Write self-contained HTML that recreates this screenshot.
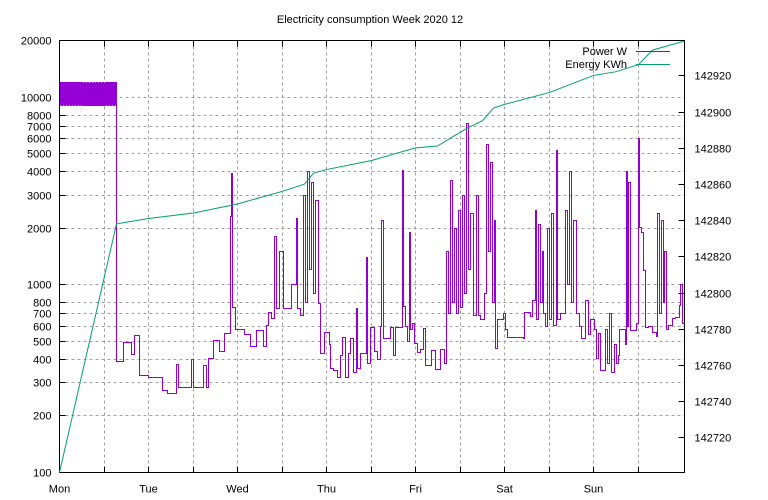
<!DOCTYPE html>
<html><head><meta charset="utf-8"><style>
body{margin:0;background:#fff}
svg{display:block;font-family:"Liberation Sans",sans-serif;font-size:11px}
</style></head><body>
<svg id="c" width="768" height="500" xmlns="http://www.w3.org/2000/svg">
<text x="370" y="23" text-anchor="middle">Electricity consumption Week 2020 12</text>
<g id="grid"></g><g id="axes"></g><g id="series"></g>
<g>
<text x="627" y="55" text-anchor="end">Power W</text>
<line x1="636" y1="51.5" x2="670" y2="51.5" stroke="#9400d3"/>
<text x="627" y="68" text-anchor="end">Energy KWh</text>
<line x1="636" y1="64.5" x2="670" y2="64.5" stroke="#009e73"/>
</g>
</svg>
<script>
const dayLabels=["Mon","Tue","Wed","Thu","Fri","Sat","Sun"];
const leftTicks=[100,200,300,400,500,600,700,800,1000,2000,3000,4000,5000,6000,7000,8000,10000,20000];
const rightTicks=[142720,142740,142760,142780,142800,142820,142840,142860,142880,142900,142920];
const energyHours=[0,15.4,24,36,48,60,66,68.5,72,84,96,102,106,110,114,117,120,132,144,150,156,160,168.5];
const energyKwh=[142700.7,142838,142841,142844,142849,142856,142860,142866,142868,142873,142880,142881,142886,142891,142895,142902,142904,142910.6,142920,142922,142926,142934,142939];
const powerHours=[0,0.2,0.4,0.6,0.8,1,1.2,1.4,1.6,1.8,2,2.2,2.4,2.6,2.8,3,3.2,3.4,3.6,3.8,4,4.2,4.4,4.6,4.8,5,5.2,5.4,5.6,5.8,6,6.2,6.4,6.6,6.8,7,7.2,7.4,7.6,7.8,8,8.2,8.4,8.6,8.8,9,9.2,9.4,9.6,9.8,10,10.2,10.4,10.6,10.8,11,11.2,11.4,11.6,11.8,12,12.2,12.4,12.6,12.8,13,13.2,13.4,13.6,13.8,14,14.2,14.4,14.6,14.8,15,15.2,
15.4,17.3,19.4,20.2,21.6,24.0,27.8,29.1,31.6,32.1,35.6,36.1,38.8,39.6,40.2,41.5,43.2,44.5,46.1,46.4,46.7,47.5,49.9,51.5,53.1,55.0,55.8,56.4,57.2,58.0,58.5,59.3,60.4,62.6,63.9,64.2,65.0,65.8,66.3,66.9,67.4,68.0,68.5,69.0,69.9,70.4,71.5,72.8,73.1,73.9,75.0,75.8,76.3,77.1,77.9,78.5,79.3,80.1,80.4,81.2,82.8,83.1,83.9,85.0,85.8,86.6,86.8,87.4,89.3,90.1,90.6,92.5,92.8,93.3,93.9,94.4,94.7,95.2,95.7,96.6,97.4,98.2,98.7,100.1,100.3,101.4,102.8,103.8,104.4,104.9,105.5,106.0,106.5,107.1,107.6,108.1,108.7,109.2,109.8,110.3,110.8,111.7,112.5,113.0,113.5,114.6,115.2,115.7,116.2,116.8,117.3,117.6,118.1,119.7,120.3,120.8,125.1,125.4,127.0,127.6,128.4,128.6,129.2,129.7,130.3,130.5,131.1,131.6,132.2,132.7,133.2,134.0,134.3,135.1,136.5,137.0,137.5,138.1,138.6,139.4,140.2,140.8,141.9,142.7,143.2,144.3,144.8,145.4,145.9,147.3,147.8,148.3,148.9,149.7,150.2,150.8,151.0,152.6,152.9,153.2,153.5,154.0,155.6,156.1,156.4,157.0,157.5,158.0,158.8,159.9,161.0,161.3,161.8,162.4,162.9,163.2,163.7,164.2,165.3,166.1,167.2,167.5,168.0,168.5];
const powerWatts=[12000,9000,12000,9000,12000,9000,12000,9000,12000,9000,12000,9000,12000,9000,12000,9000,12000,9000,12000,9000,12000,9000,12000,9000,12000,9000,12000,9000,12000,9000,12000,9000,12000,9000,12000,9000,12000,9000,12000,9000,12000,9000,12000,9000,12000,9000,12000,9000,12000,9000,12000,9000,12000,9000,12000,9000,12000,9000,12000,9000,12000,9000,12000,9000,12000,9000,12000,9000,12000,9000,12000,9000,12000,9000,12000,9000,12000,
390,493,425,537,329,320,273,264,376,282,400,282,370,282,405,505,440,550,2300,3900,757,580,540,470,570,470,610,710,660,1800,750,1500,750,1000,2250,750,686,3000,800,4000,1200,3500,900,2800,795,430,560,480,358,350,320,420,525,320,430,520,340,750,360,430,1400,380,590,440,400,600,2200,520,590,420,590,4050,770,600,500,1900,580,620,485,435,450,585,370,370,446,355,450,380,1500,700,3600,800,2000,700,2500,757,3000,900,7200,1200,2400,685,3000,690,650,900,5600,1500,4500,800,2200,460,650,700,580,525,520,710,680,820,2500,650,2100,800,1500,700,600,2000,650,2400,608,5200,650,700,2500,1000,4000,800,2200,700,600,520,824,540,650,580,405,550,350,580,380,700,340,480,380,420,580,480,4000,600,3500,570,620,6000,2030,1900,1190,590,600,560,530,2400,700,2200,800,1500,580,610,660,670,780,1000,620,620];

const L=59.5,R=684.5,T=40.5,B=472.5;
const xS=h=>Math.round(L+(h/168.5)*(R-L)-0.5)+0.5;
const yL=v=>Math.round(B-(Math.log10(v)-2)/Math.log10(200)*(B-T)-0.5)+0.5;
const y2min=142700.66,y2max=142939.3;
const yR=v=>B-(v-y2min)/(y2max-y2min)*(B-T);
const NS="http://www.w3.org/2000/svg";
function mk(tag,parent,attrs){const e=document.createElementNS(NS,tag);for(const k in attrs)e.setAttribute(k,attrs[k]);parent.appendChild(e);return e;}
const grid=document.getElementById('grid'),axes=document.getElementById('axes'),ser=document.getElementById('series');
leftTicks.forEach(v=>{const y=yL(v);
 if(v>100&&v<20000){const g=mk('line',grid,{x1:L,x2:R,y1:y,y2:y,stroke:'#a0a0a0','stroke-dasharray':'3,3'});
 
 }
 const t=mk('line',axes,{x1:L,x2:L+6,y1:y,y2:y,stroke:'#000'});
 
 
 const tx=mk('text',axes,{x:L-8,y:y+4,'text-anchor':'end'});tx.textContent=v;
 
 
});
for(let h=12;h<168;h+=12){const x=xS(h);
 const g=mk('line',grid,{x1:x,x2:x,y1:T,y2:B,stroke:'#a0a0a0','stroke-dasharray':'3,3'});
 
 
 mk('line',axes,{x1:x,x2:x,y1:B,y2:B-6,stroke:'#000'});
 mk('line',axes,{x1:x,x2:x,y1:T,y2:T+6,stroke:'#000'});}
dayLabels.forEach((d,i)=>{const tx=mk('text',axes,{x:xS(i*24),y:B+20,'text-anchor':'middle'});tx.textContent=d;
 
 });
rightTicks.forEach(v=>{const y=Math.round(yR(v))+0.5;
 mk('line',axes,{x1:R,x2:R-6,y1:y,y2:y,stroke:'#000'});
 const tx=mk('text',axes,{x:R+10,y:y+4});tx.textContent=v;
 
 });
const box=mk('rect',axes,{x:L,y:T,width:R-L,height:B-T,fill:'none',stroke:'#000'});


let d='';powerHours.forEach((h,i)=>{const x=xS(h),y=yL(powerWatts[i]);
 if(i===0)d+=`M${x},${y}`;else d+=`H${x}V${y}`;});
const pp=mk('path',ser,{d:d,fill:'none',stroke:'#9400d3','stroke-width':1,'shape-rendering':'crispEdges'});


const ep=mk('path',ser,{d:energyHours.map((h,i)=>(i?'L':'M')+xS(h)+','+yR(energyKwh[i])).join(''),fill:'none',stroke:'#009e73','stroke-width':1});


</script>
</body></html>
